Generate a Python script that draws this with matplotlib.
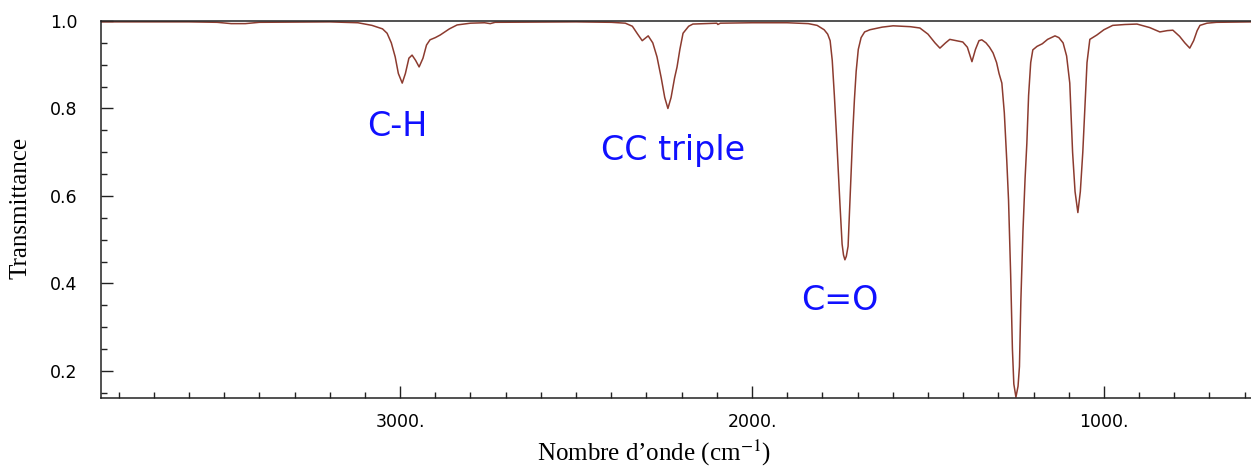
import matplotlib
matplotlib.use("Agg")
import matplotlib.pyplot as plt
from matplotlib.ticker import MultipleLocator, FuncFormatter

# --- data ---
wavenumber = [3850, 3600, 3520, 3480, 3440, 3400, 3200, 3120, 3080, 3050, 3037, 3025,
              3014, 3005, 2994, 2985, 2975, 2966, 2956, 2946, 2935, 2925, 2915, 2900,
              2886, 2860, 2838, 2800, 2760, 2744, 2730, 2500, 2400, 2360, 2340, 2325,
              2312, 2295, 2282, 2270, 2258, 2248, 2239, 2230, 2220, 2213, 2205, 2196,
              2180, 2168, 2100, 2097, 2090, 2000, 1900, 1840, 1815, 1795, 1785, 1778,
              1772, 1766, 1760, 1755, 1750, 1744, 1740, 1736, 1732, 1727, 1722, 1718,
              1714, 1709, 1704, 1698, 1690, 1680, 1665, 1630, 1599, 1550, 1523, 1500,
              1480, 1466, 1450, 1438, 1420, 1401, 1388, 1375, 1365, 1355, 1347, 1335,
              1325, 1315, 1305, 1298, 1290, 1283, 1276, 1271, 1265, 1260, 1256, 1250,
              1244, 1240, 1236, 1230, 1224, 1219, 1214, 1208, 1202, 1190, 1175, 1160,
              1139, 1128, 1116, 1106, 1097, 1089, 1082, 1074, 1067, 1060, 1054, 1048,
              1040, 1020, 1000, 975, 940, 906, 870, 841, 820, 804, 785, 770, 756, 745,
              735, 727, 707, 680, 580]
transmittance = [0.998, 0.998, 0.997, 0.994, 0.994, 0.997, 0.998, 0.996, 0.990, 0.982, 0.972, 0.950,
                 0.918, 0.880, 0.858, 0.880, 0.915, 0.922, 0.910, 0.895, 0.915, 0.945, 0.957, 0.962,
                 0.968, 0.982, 0.991, 0.995, 0.996, 0.994, 0.997, 0.998, 0.997, 0.995, 0.988, 0.970,
                 0.955, 0.966, 0.950, 0.918, 0.870, 0.825, 0.800, 0.825, 0.870, 0.895, 0.935, 0.972,
                 0.988, 0.993, 0.995, 0.992, 0.995, 0.996, 0.996, 0.994, 0.990, 0.980, 0.970, 0.955,
                 0.910, 0.830, 0.740, 0.660, 0.580, 0.490, 0.465, 0.454, 0.462, 0.485, 0.580, 0.660,
                 0.740, 0.820, 0.885, 0.935, 0.962, 0.975, 0.980, 0.986, 0.989, 0.987, 0.984, 0.970,
                 0.950, 0.938, 0.950, 0.958, 0.955, 0.952, 0.940, 0.907, 0.935, 0.955, 0.957, 0.950,
                 0.940, 0.927, 0.905, 0.880, 0.858, 0.790, 0.680, 0.590, 0.420, 0.250, 0.170, 0.140,
                 0.165, 0.210, 0.360, 0.520, 0.640, 0.720, 0.830, 0.905, 0.934, 0.942, 0.948, 0.958,
                 0.966, 0.962, 0.950, 0.920, 0.858, 0.700, 0.610, 0.562, 0.610, 0.700, 0.800, 0.905,
                 0.958, 0.968, 0.980, 0.990, 0.992, 0.993, 0.985, 0.975, 0.978, 0.979, 0.965, 0.950, 0.938, 0.955,
                 0.978, 0.990, 0.995, 0.997, 0.998]

annotation_labels = ["C-H", "CC triple", "C=O"]
annotation_x = [3008, 2224, 1750]
annotation_y = [0.758, 0.705, 0.362]

x_major_ticks = [3000, 2000, 1000]
y_major_ticks = [0.2, 0.4, 0.6, 0.8, 1.0]

# --- figure ---
plt.rcParams['mathtext.fontset'] = 'stix'
fig = plt.figure(figsize=(12.51, 4.70), dpi=100)
ax = fig.add_axes([101 / 1251, 1 - 398 / 470, 1 - 101 / 1251, (398 - 21) / 470])

ax.plot(wavenumber, transmittance, color="#8c3b2f", lw=1.1)

ax.set_xlim(3850, 582)
ax.set_ylim(0.138, 1.0)

ax.set_xticks(x_major_ticks)
ax.set_yticks(y_major_ticks)
ax.xaxis.set_minor_locator(MultipleLocator(100))
ax.yaxis.set_minor_locator(MultipleLocator(0.05))
ax.xaxis.set_major_formatter(FuncFormatter(lambda v, p: f"{v:.0f}."))
ax.yaxis.set_major_formatter(FuncFormatter(lambda v, p: f"{v:.1f}"))

ax.tick_params(axis='both', which='both', direction='in', colors='#222222',
               labelcolor='black', width=1.0)
ax.tick_params(axis='both', which='major', length=8.5, labelsize=12.5)
ax.tick_params(axis='both', which='minor', length=4.5)
ax.tick_params(axis='x', which='major', pad=11)
ax.tick_params(axis='y', which='major', pad=17)

for side in ['left', 'bottom', 'top']:
    ax.spines[side].set_linewidth(1.1)
    ax.spines[side].set_color('#222222')
ax.spines['right'].set_visible(False)

ax.set_xlabel("Nombre d\u2019onde (cm$^{-1}$)", fontsize=18, family='Liberation Serif',
              va='center', ha='center')
ax.xaxis.set_label_coords((654 - 101) / 1150, (398 - 453) / 377)
ax.set_ylabel("Transmittance", fontsize=18, family='Liberation Serif',
              va='center', ha='center')
ax.yaxis.set_label_coords((20 - 101) / 1150, (398 - 208) / 377)

for lab, xv, yv in zip(annotation_labels, annotation_x, annotation_y):
    ax.text(xv, yv, lab, color='#1010ff', fontsize=24, family='DejaVu Sans',
            ha='center', va='center')

fig.savefig("out.png", dpi=100)
